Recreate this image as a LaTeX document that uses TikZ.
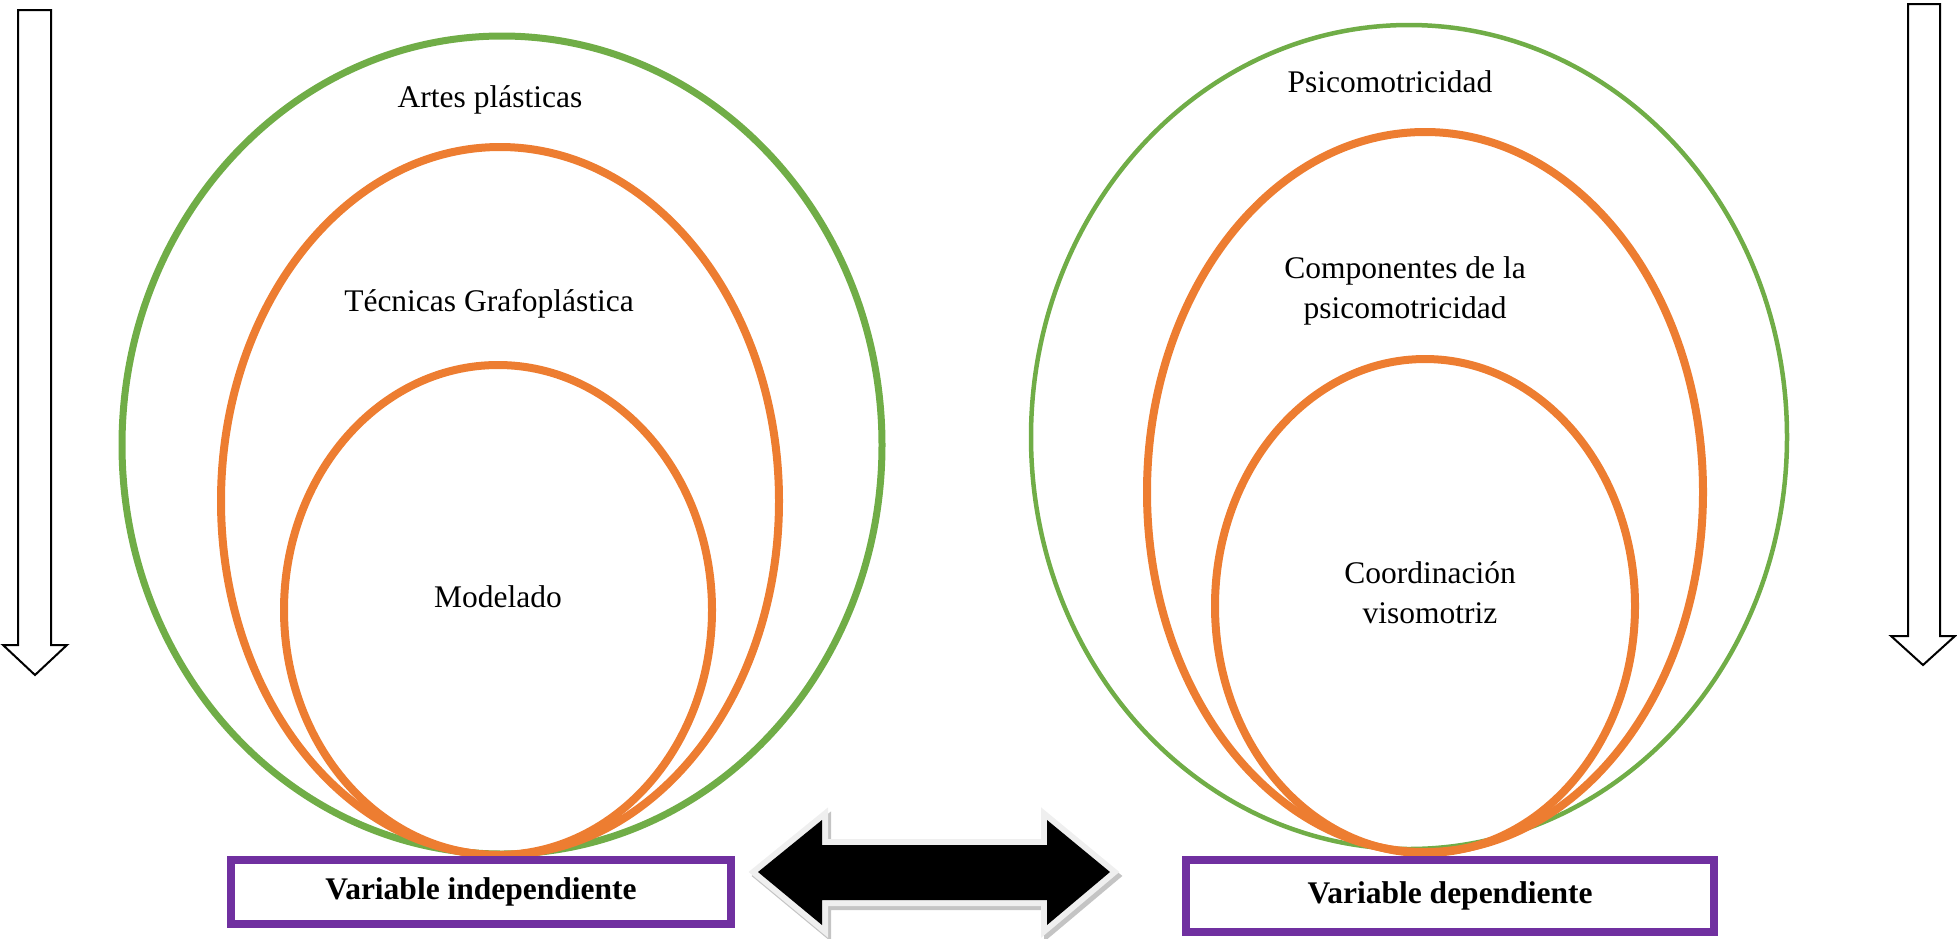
\documentclass[tikz,border=0pt]{standalone}
\usepackage{fontspec}
\setmainfont{Liberation Serif}
\definecolor{vgreen}{HTML}{70AD47}
\definecolor{vorange}{HTML}{ED7D31}
\definecolor{vpurple}{HTML}{7030A0}
\definecolor{aborder}{HTML}{EFEFEF}
\definecolor{ashadow}{HTML}{C4C4C4}
\begin{document}
\begin{tikzpicture}[x=1pt,y=-1pt,
  lbl/.style={font=\fontsize{31.5}{40}\selectfont, align=center, inner sep=0pt},
  varbox/.style={draw=vpurple, line width=8pt, fill=white},
  vartext/.style={font=\fontsize{31.5}{40}\selectfont\bfseries, inner sep=0pt},
  greenthick/.style={draw=vgreen, line width=7pt},
  greenthin/.style={draw=vgreen, line width=4.5pt},
  orangeline/.style={draw=vorange, line width=8pt},
  downarrow/.style={draw=black, line width=2pt, fill=white, line join=miter}]
\useasboundingbox (0,0) rectangle (1957,938);
% side arrows
\draw[downarrow] (18,10) -- (51,10) -- (51,645) -- (67,645) -- (35,675) -- (3,645) -- (18,645) -- cycle;
\draw[downarrow] (1908,4) -- (1940,4) -- (1940,636) -- (1955,636) -- (1923,665) -- (1891,636) -- (1908,636) -- cycle;
% left ellipses
\draw[greenthick] (502,445) ellipse (380 and 409);
\draw[orangeline] (500,501) ellipse (279 and 354);
\draw[orangeline] (498,610) ellipse (214 and 245);
% right ellipses
\draw[greenthin] (1409,437) ellipse (378 and 412);
\draw[orangeline] (1425,492) ellipse (278 and 360);
\draw[orangeline] (1425,606) ellipse (210 and 247);
% labels
\node[lbl] (artes) at (490,100) {Artes plásticas};
\node[lbl] (tecnicas) at (489,304) {Técnicas Grafoplástica};
\node[lbl] (modelado) at (498,597) {Modelado};
\node[lbl] (psico) at (1390,82) {Psicomotricidad};
\node[lbl] (comp) at (1405,291) {Componentes de la\\psicomotricidad};
\node[lbl] (coord) at (1430,593) {Coordinación\\visomotriz};
% boxes
\draw[varbox] (231,860) rectangle (731,924);
\node[vartext] (vi) at (481,892) {Variable independiente};
\draw[varbox] (1186,860) rectangle (1714,932);
\node[vartext] (vd) at (1450,896) {Variable dependiente};
% double arrow
\def\dblarrow{(758,872) -- (822,820) -- (822,845) -- (1047,845) -- (1047,820) -- (1110,872) -- (1047,925) -- (1047,900) -- (822,900) -- (822,925) -- cycle}
\begin{scope}[shift={(3,4)}]
\draw[ashadow, line width=12pt, line join=miter, fill=ashadow] \dblarrow;
\end{scope}
\draw[aborder, line width=12pt, line join=miter, fill=black] \dblarrow;
\fill[black] \dblarrow;
\end{tikzpicture}
\end{document}
